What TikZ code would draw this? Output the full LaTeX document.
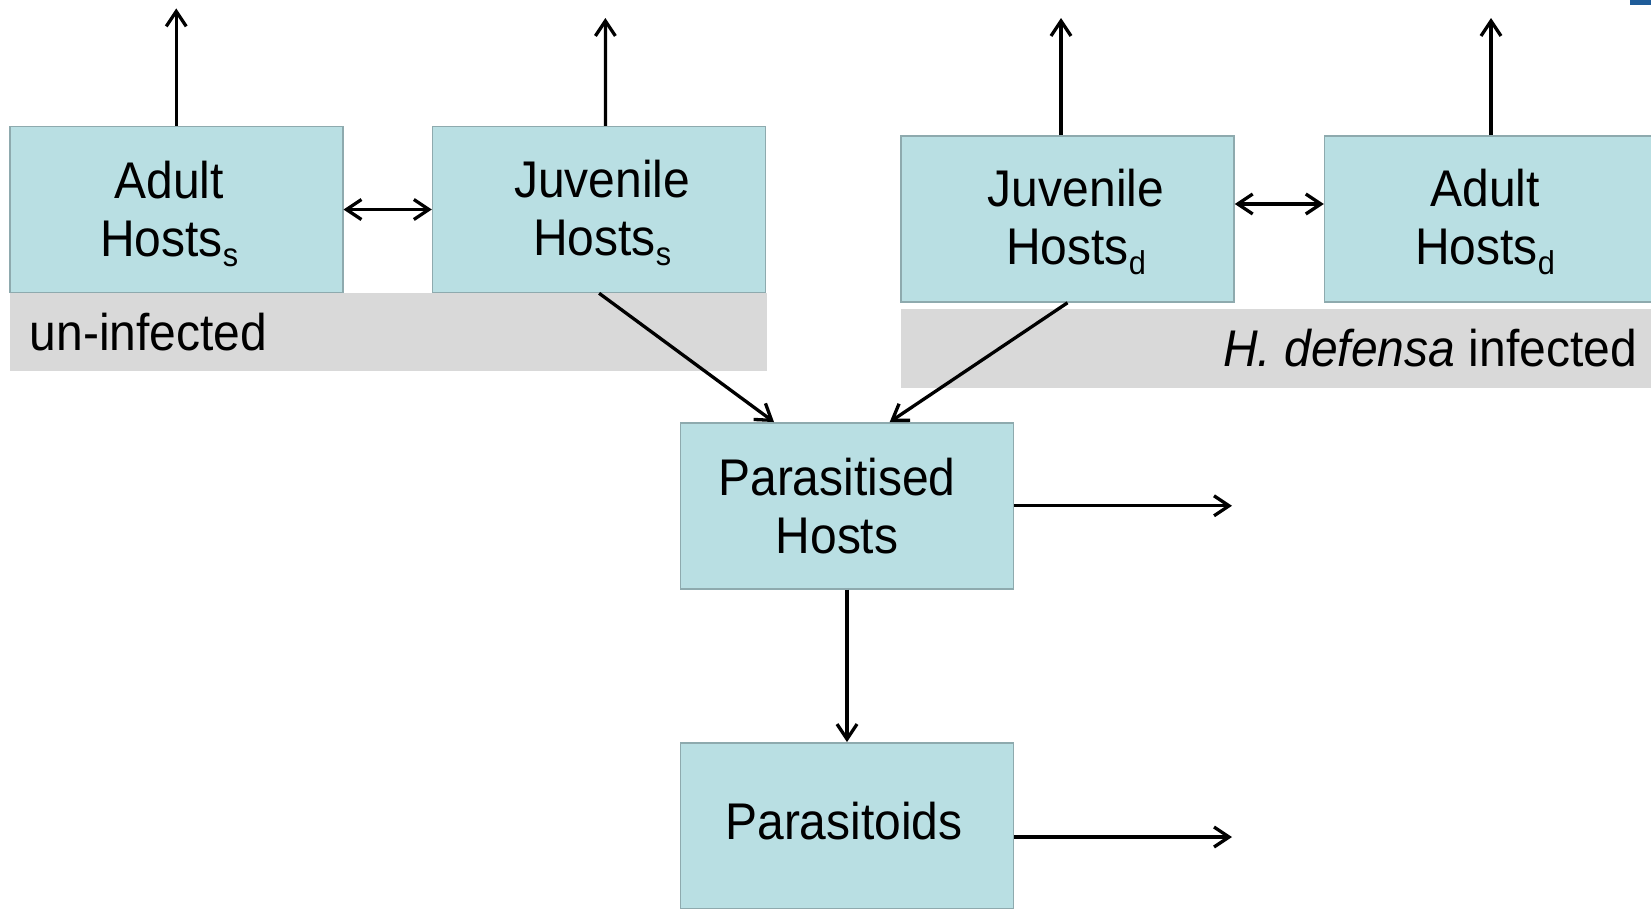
\documentclass[tikz,border=0pt]{standalone}
\usepackage{fontspec}
\setmainfont{Liberation Sans}[FakeStretch=0.93]
\usetikzlibrary{arrows.meta}
\definecolor{boxfill}{HTML}{B9DFE3}
\definecolor{boxline}{HTML}{8EAAAE}
\definecolor{bandgray}{HTML}{D9D9D9}
\definecolor{slideblue}{HTML}{1F5C99}
\newcommand{\subx}[1]{\raisebox{-10pt}{\fontsize{33}{33}\selectfont #1}}
\begin{document}
\begin{tikzpicture}[x=1pt,y=-1pt,
  hbox/.style={draw=boxline, line width=1.5pt, fill=boxfill, minimum width=333pt,
    minimum height=166pt, inner sep=0pt},
  btext/.style={inner sep=0pt, align=center, font=\fontsize{51.6}{58}\selectfont},
  conn/.style={line width=3.3pt, -{Straight Barb[length=15pt,width=20pt]}},
  bconn/.style={line width=3.3pt,
    {Straight Barb[length=15pt,width=20pt]}-{Straight Barb[length=15pt,width=20pt]}},
  bandtext/.style={inner sep=0pt, font=\fontsize{51.6}{58}\selectfont}]
\useasboundingbox (0,0) rectangle (1651,908);
\clip (0,0) rectangle (1651,908);
% background bands
\fill[bandgray] (9.5,293) rectangle (766.5,371);
\fill[bandgray] (901,308.5) rectangle (1651,387.5);
\fill[slideblue] (1630,0) rectangle (1651,5);
% boxes
\node[hbox] (as) at (176.25,209.5) {};
\node[hbox] (js) at (599.1,209.5) {};
\node[hbox] (jd) at (1067.5,219) {};
\node[hbox] (ad) at (1491,219) {};
\node[hbox] (ph) at (847,505.8) {};
\node[hbox] (pd) at (847,825.8) {};
% box texts
\node[btext] (ast) at ([xshift=-7pt,yshift=-4pt]as.center) {Adult\\Hosts\subx{s}};
\node[btext] (jst) at ([xshift=3pt,yshift=-3pt]js.center) {Juvenile\\Hosts\subx{s}};
\node[btext] (jdt) at ([xshift=8.5pt,yshift=-3pt]jd.center) {Juvenile\\Hosts\subx{d}};
\node[btext] (adt) at ([xshift=-6pt,yshift=-3pt]ad.center) {Adult\\Hosts\subx{d}};
\node[btext] (pht) at ([xshift=-10pt,yshift=0pt]ph.center) {Parasitised\\Hosts};
\node[btext] (pdt) at ([xshift=-3pt,yshift=5pt]pd.center) {Parasitoids};
% band labels
\node[bandtext, anchor=west] (ui) at (29.5,332) {un-infected};
\node[bandtext, anchor=east] (hd) at (1637,348) {\textit{H. defensa} infected};
% free ends
\coordinate (asT) at (176.25,8.4);
\coordinate (jsT) at (605.4,18);
\coordinate (jdT) at (1061,18);
\coordinate (adT) at (1491,18);
\coordinate (phR) at (1232,505.8);
\coordinate (pdR) at (1232,837);
% connectors
\draw[conn] (as.north) -- (asT);
\draw[conn] ([xshift=6.3pt]js.north) -- (jsT);
\draw[conn] ([xshift=-6.5pt]jd.north) -- (jdT);
\draw[conn] (ad.north) -- (adT);
\draw[bconn] (as.east) -- (js.west);
\draw[bconn] ([yshift=15pt]jd.east) -- ([yshift=15pt]ad.west);
\draw[conn] (js.south) -- ([xshift=-73pt]ph.north);
\draw[conn] (jd.south) -- ([xshift=42.7pt]ph.north);
\draw[conn] (ph.south) -- (pd.north);
\draw[conn] (ph.east) -- (phR);
\draw[conn] ([yshift=-11.2pt]pd.east) -- (pdR);
\end{tikzpicture}
\end{document}
